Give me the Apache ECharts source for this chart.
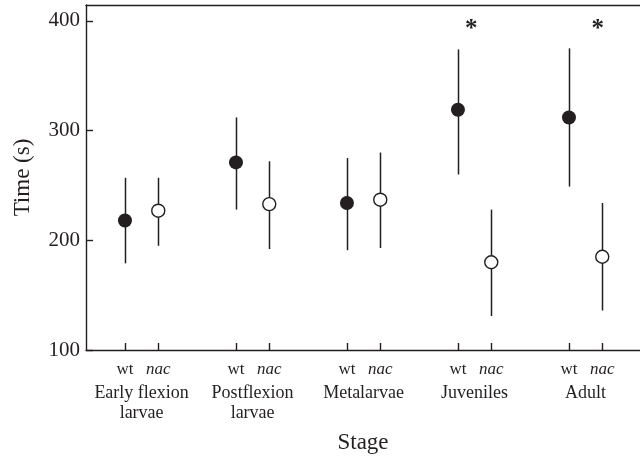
<!DOCTYPE html>
<html>
<head>
<meta charset="utf-8">
<script src="https://cdn.jsdelivr.net/npm/echarts@6/dist/echarts.min.js"></script>
<style>
html,body{margin:0;padding:0;background:#fff;}
#main{width:640px;height:459px;}
</style>
</head>
<body>
<div id="main"></div>
<script>
// ---- data ----
var stages = ['Early flexion\nlarvae', 'Postflexion\nlarvae', 'Metalarvae', 'Juveniles', 'Adult'];
var genotypes = ['wt', 'nac'];
var wtMean  = [218, 271, 234, 319, 312];
var wtLow   = [179, 228, 191, 260, 249];
var wtHigh  = [257, 312, 275, 374, 375];
var nacMean = [227, 233, 237, 180, 185];
var nacLow  = [195, 192, 193, 131, 136];
var nacHigh = [257, 272, 280, 228, 234];
var yTicks = [100, 200, 300, 400];
var sigX = [4.12, 5.26];   // asterisk positions (stage units)
var sigY = [392, 392];

var NAC_OFF = 0.3;
var INK = '#231f20';
var FONT = '"Liberation Serif", "Times New Roman", serif';

var wtPts = [], nacPts = [], bars = [], tickVals = [], grpVals = [];
for (var i = 0; i < stages.length; i++) {
  var g = i + 1;
  wtPts.push([g, wtMean[i]]);
  nacPts.push([g + NAC_OFF, nacMean[i]]);
  bars.push([g, wtLow[i], wtHigh[i]]);
  bars.push([g + NAC_OFF, nacLow[i], nacHigh[i]]);
  tickVals.push(g, g + NAC_OFF);
  grpVals.push(g + NAC_OFF / 2);
}
var sigPts = sigX.map(function (x, k) { return [x, sigY[k]]; });

var XMIN = 0.649, XMAX = 5.64;

var chart = echarts.init(document.getElementById('main'), null, {renderer: 'canvas'});
chart.setOption({
  animation: false,
  backgroundColor: '#fff',
  grid: {left: 86, right: 0, top: 5, bottom: 106, containLabel: false},
  xAxis: [
    {
      type: 'value', min: XMIN, max: XMAX, position: 'bottom',
      name: 'Stage', nameLocation: 'middle', nameGap: 81,
      nameTextStyle: {fontFamily: FONT, fontSize: 23, color: INK},
      axisLine: {show: true, lineStyle: {color: INK, width: 1.4}},
      axisTick: {show: true, inside: true, length: 7, customValues: tickVals, lineStyle: {color: INK, width: 1.4}},
      axisLabel: {
        show: true, customValues: tickVals, margin: 11,
        fontFamily: FONT, fontSize: 17, color: INK,
        formatter: function (v) {
          var frac = Math.round((v - Math.floor(v)) * 10);
          return frac >= 2 ? '{i|' + genotypes[1] + '}' : genotypes[0];
        },
        rich: {i: {fontStyle: 'italic', fontFamily: FONT, fontSize: 17, color: INK}}
      },
      splitLine: {show: false}
    },
    {
      type: 'value', min: XMIN, max: XMAX, position: 'bottom', gridIndex: 0,
      axisLine: {show: false}, axisTick: {show: false}, splitLine: {show: false},
      axisLabel: {
        show: true, customValues: grpVals, margin: 33,
        fontFamily: FONT, fontSize: 18, color: INK, lineHeight: 20,
        formatter: function (v) {
          var idx = Math.round(v - NAC_OFF / 2) - 1;
          return stages[idx];
        }
      }
    },
    {
      type: 'value', min: XMIN, max: XMAX, position: 'top',
      axisLine: {show: true, lineStyle: {color: INK, width: 1.4}},
      axisTick: {show: false}, axisLabel: {show: false}, splitLine: {show: false}
    }
  ],
  yAxis: {
    type: 'value', min: 100, max: 414.5,
    name: 'Time (s)', nameLocation: 'middle', nameGap: 52,
    nameTextStyle: {fontFamily: FONT, fontSize: 23, color: INK},
    axisLine: {show: true, lineStyle: {color: INK, width: 1.4}},
    axisTick: {show: true, inside: true, length: 7, customValues: yTicks, lineStyle: {color: INK, width: 1.4}},
    axisLabel: {show: true, customValues: yTicks, margin: 6, fontFamily: FONT, fontSize: 21, color: INK},
    splitLine: {show: false}
  },
  series: [
    {
      type: 'custom', xAxisIndex: 0, data: bars, z: 1,
      renderItem: function (params, api) {
        var lo = api.coord([api.value(0), api.value(1)]);
        var hi = api.coord([api.value(0), api.value(2)]);
        var x = Math.round(lo[0]) + 0.5;
        return {type: 'line', shape: {x1: x, y1: lo[1], x2: x, y2: hi[1]},
                style: {stroke: INK, lineWidth: 1.5}};
      }
    },
    {
      type: 'scatter', xAxisIndex: 0, data: wtPts, symbol: 'circle', symbolSize: 14, z: 3,
      itemStyle: {color: INK, borderColor: INK, borderWidth: 0, opacity: 1}
    },
    {
      type: 'scatter', xAxisIndex: 0, data: nacPts, symbol: 'circle', symbolSize: 13, z: 3,
      itemStyle: {color: '#fff', borderColor: INK, borderWidth: 1.4, opacity: 1}
    },
    {
      type: 'custom', xAxisIndex: 0, data: sigPts, z: 4,
      renderItem: function (params, api) {
        var p = api.coord([api.value(0), api.value(1)]);
        return {type: 'text', x: p[0], y: p[1],
                style: {text: '*', fontFamily: FONT, fontWeight: 'bold', fontSize: 25, fill: INK,
                        align: 'center', verticalAlign: 'middle'}};
      }
    }
  ]
});
</script>
</body>
</html>
